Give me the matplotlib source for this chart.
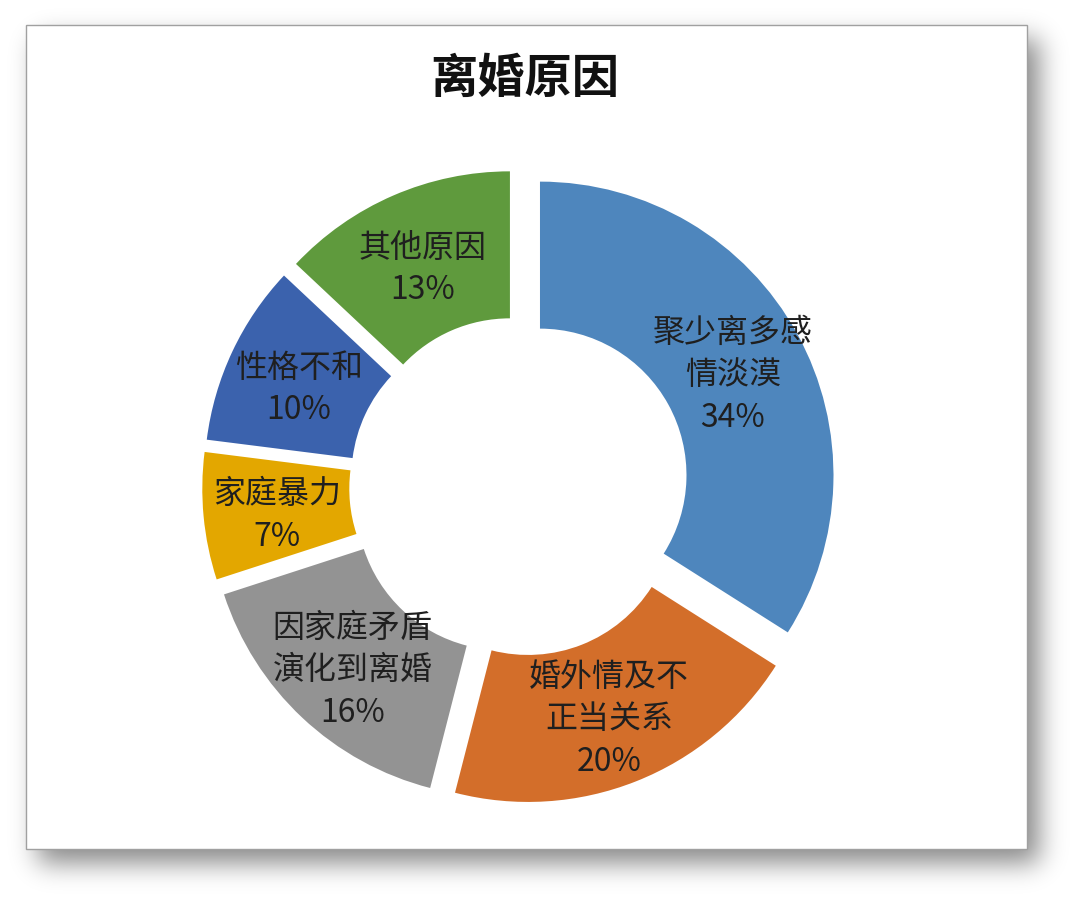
import numpy as np
import matplotlib
matplotlib.use("Agg")
import matplotlib.pyplot as plt
from matplotlib.patches import Rectangle

plt.rcParams['font.family'] = ['Noto Sans CJK SC', 'DejaVu Sans']

# Data
reasons = ['聚少离多感\n情淡漠', '婚外情及不\n正当关系', '因家庭矛盾\n演化到离婚',
           '家庭暴力', '性格不和', '其他原因']
shares = [34, 20, 16, 7, 10, 13]
colors = ['#4E86BD', '#D36E2A', '#939393', '#E3A700', '#3B62AD', '#5F9A3D']

W, H = 1080, 904
fig = plt.figure(figsize=(W / 100, H / 100), dpi=100)
fig.patch.set_facecolor('white')
ax = fig.add_axes([0, 0, 1, 1])

# Card frame with soft drop shadow
fx0, fy0, fx1, fy1 = 26, 26, 1027, 850  # image coords (y down)
off_x, off_y, sigma = 12, 14, 13

def blurred_box(n, lo, hi):
    prof = np.zeros(n)
    prof[max(lo, 0):min(hi, n)] = 1.0
    k = np.arange(-4 * sigma, 4 * sigma + 1)
    kern = np.exp(-0.5 * (k / sigma) ** 2)
    kern /= kern.sum()
    return np.convolve(prof, kern, mode='same')

sx = blurred_box(W, fx0 + off_x, fx1 + off_x)
sy = blurred_box(H, fy0 + off_y, fy1 + off_y)
alpha = np.outer(sy, sx) * 0.47
shadow = np.zeros((H, W, 4))
shadow[..., 3] = alpha
ax.imshow(shadow, extent=(0, W, 0, H), origin='upper', zorder=0)

ax.add_patch(Rectangle((fx0, H - fy1), fx1 - fx0, fy1 - fy0, facecolor='white',
                       edgecolor='#a0a0a0', lw=1.0, zorder=1))

# Donut (sizes in pixels; explode is an absolute offset in pie)
radius = 293.5
hole = 147
gap = 23.6
labels = [f'{r}\n{s}%' for r, s in zip(reasons, shares)]
wedges, texts = ax.pie(shares, labels=labels, colors=colors, startangle=90,
                       counterclock=False, center=(519.3, H - 487.5), radius=radius,
                       explode=[gap] * len(shares), labeldistance=0.75,
                       wedgeprops=dict(width=hole, edgecolor='none'),
                       textprops=dict(ha='center', va='center', fontsize=23,
                                      color='#1f1f1f', linespacing=1.42,
                                      multialignment='center'),
                       frame=True)
for w in wedges:
    w.set_zorder(2)
for t in texts:
    t.set_zorder(3)
    tx, ty = t.get_position()
    t.set_position((tx, ty - 5))  # nudge for CJK font metrics

ax.text(525, H - 79, '离婚原因', ha='center', va='center', fontsize=34,
        fontweight='bold', color='#111111', zorder=3)

ax.set_xlim(0, W)
ax.set_ylim(0, H)
ax.set_aspect('equal')
ax.axis('off')

fig.savefig('out.png', dpi=100, facecolor='white')
